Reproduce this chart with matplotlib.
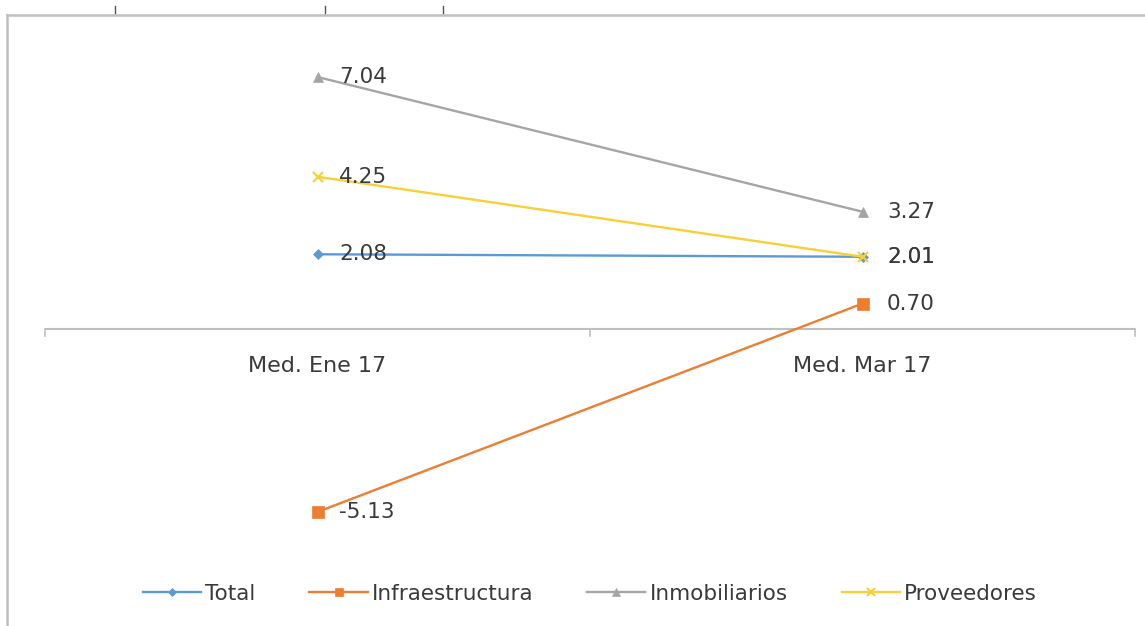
import matplotlib
matplotlib.use("Agg")
import matplotlib.pyplot as plt
from matplotlib.lines import Line2D

categories = ["Med. Ene 17", "Med. Mar 17"]
series_names = ["Total", "Infraestructura", "Inmobiliarios", "Proveedores"]
total = [2.08, 2.01]
infraestructura = [-5.13, 0.70]
inmobiliarios = [7.04, 3.27]
proveedores = [4.25, 2.01]
values = [total, infraestructura, inmobiliarios, proveedores]

colors = ["#5B9BD5", "#ED7D31", "#A5A5A5", "#F7D038"]
markers = ["D", "s", "^", "x"]
msizes = [5, 8, 7, 7]

plt.rcParams['font.family'] = ['DejaVu Sans']

W, H = 1145, 626
fig = plt.figure(figsize=(W / 100, H / 100), dpi=100)
ax = fig.add_axes([45 / W, 1 - 550 / H, 1090 / W, 520 / H])

x = list(range(len(categories)))
for name, vals, c, m, ms in zip(series_names, values, colors, markers, msizes):
    ax.plot(x, vals, color=c, lw=1.7, marker=m, ms=ms, mew=1.5 if m == "x" else 0.5,
            mfc=c, mec=c, label=name, zorder=3)

label_color = "#3A3A3A"
for vals in values:
    for xi, v in zip(x, vals):
        dx = 0.04 if xi == 0 else 0.045
        ax.text(xi + dx, v, f"{v:.2f}", color=label_color, fontsize=15.5,
                va="center", ha="left", zorder=4)

ax.set_xlim(-0.5, 1.5)
ax.set_ylim(-6.195, 8.355)
for s in ax.spines.values():
    s.set_visible(False)
ax.set_yticks([])
ax.axhline(0, color="#BFBFBF", lw=1.5, zorder=1)
for tx in [-0.5, 0.5, 1.5]:
    ax.plot([tx, tx], [0, -0.22], color="#BFBFBF", lw=1.2, zorder=1, clip_on=False)
ax.set_xticks([])
for xi, cat in zip(x, categories):
    ax.text(xi, -1.05, cat, ha="center", va="center", fontsize=16, color=label_color)

leg = fig.legend(loc="center", bbox_to_anchor=(590 / W, 1 - 594 / H), ncol=4,
                 frameon=False, fontsize=15.5, handlelength=2.7, columnspacing=2.5,
                 handletextpad=0.2, labelcolor=label_color, markerscale=0.8)

# outer chart frame
fig.add_artist(Line2D([7 / W, 1.0], [1 - 15 / H, 1 - 15 / H], color="#BFBFBF", lw=1.8,
                      transform=fig.transFigure))
fig.add_artist(Line2D([7 / W, 7 / W], [1 - 15 / H, 0], color="#BFBFBF", lw=1.8,
                      transform=fig.transFigure))
for px in [115, 325, 443]:
    fig.add_artist(Line2D([px / W, px / W], [1 - 6 / H, 1 - 13 / H], color="#555555", lw=1,
                          transform=fig.transFigure))

fig.savefig("out.png", dpi=100)
